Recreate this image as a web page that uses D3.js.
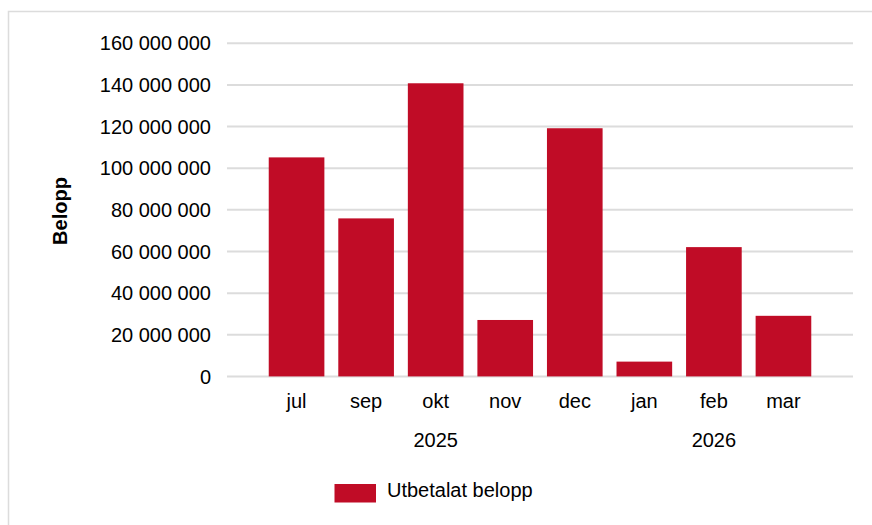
<!DOCTYPE html>
<html><head><meta charset="utf-8">
<script src="https://cdn.jsdelivr.net/npm/d3@7"></script>
<style>body{margin:0;background:#fff;}svg{display:block;font-family:"Liberation Sans",Arial,sans-serif;}</style>
</head><body>
<svg id="c" width="872" height="525"></svg>
<script>
const months = ["jul","sep","okt","nov","dec","jan","feb","mar"];
const years = ["2025","2025","2025","2025","2025","2026","2026","2026"];
const values = [105200000, 75900000, 140800000, 27100000, 119200000, 7100000, 62100000, 29100000];
const yTicks = [0,20000000,40000000,60000000,80000000,100000000,120000000,140000000,160000000];
const seriesName = "Utbetalat belopp";
const yTitle = "Belopp";

const svg = d3.select("#c");
const color = "#c00c26";
const FS = 20;
// frame
svg.append("rect").attr("x",8.5).attr("y",11.5).attr("width",900).attr("height",600)
  .attr("fill","none").attr("stroke","#dcdcdc").attr("stroke-width",1.5);

const x = d3.scaleBand().domain(months.map((m,i)=>i)).range([227,853]).paddingInner(0.2).paddingOuter(0.6);
const y = d3.scaleLinear().domain([0,160000000]).range([376.4,43.3]);

const fmt = v => d3.format(",")(v).replace(/,/g," ");
svg.append("g").selectAll("line").data(yTicks).join("line")
  .attr("x1",227).attr("x2",853).attr("y1",d=>y(d)).attr("y2",d=>y(d))
  .attr("stroke","#dcdcdc").attr("stroke-width",2);

const yAxis = d3.axisLeft(y).tickValues(yTicks).tickFormat(fmt).tickSize(0).tickPadding(16);
const gy = svg.append("g").attr("transform","translate(227,0)").call(yAxis);
gy.select(".domain").remove();
gy.selectAll("text").attr("font-size",FS).attr("fill","#000").attr("dy","0.33em")
  .attr("font-family","Liberation Sans, Arial, sans-serif");

svg.append("g").selectAll("rect").data(values).join("rect")
  .attr("x",(d,i)=>x(i)).attr("width",x.bandwidth())
  .attr("y",d=>y(d)).attr("height",d=>y(0)-y(d)).attr("fill",color);

svg.append("g").selectAll("text").data(months).join("text")
  .attr("x",(d,i)=>x(i)+x.bandwidth()/2).attr("y",408).attr("text-anchor","middle")
  .attr("font-size",FS).attr("fill","#000").text(d=>d);

const yearGroups = d3.groups(months.map((m,i)=>({i,yr:years[i]})), d=>d.yr);
svg.append("g").selectAll("text").data(yearGroups).join("text")
  .attr("x",g=>{const a=g[1][0].i,b=g[1][g[1].length-1].i;return (x(a)+x(b)+x.bandwidth())/2;})
  .attr("y",447).attr("text-anchor","middle").attr("font-size",FS).attr("fill","#000").text(g=>g[0]);

svg.append("text").attr("transform","translate(67,211) rotate(-90)").attr("text-anchor","middle")
  .attr("font-size",FS).attr("font-weight","bold").attr("fill","#000").text(yTitle);

const lg = svg.append("g");
lg.append("rect").attr("x",334.5).attr("y",484).attr("width",41.5).attr("height",18.5).attr("fill",color);
lg.append("text").attr("x",387).attr("y",497).attr("font-size",FS).attr("fill","#000").text(seriesName);
</script>
</body></html>
